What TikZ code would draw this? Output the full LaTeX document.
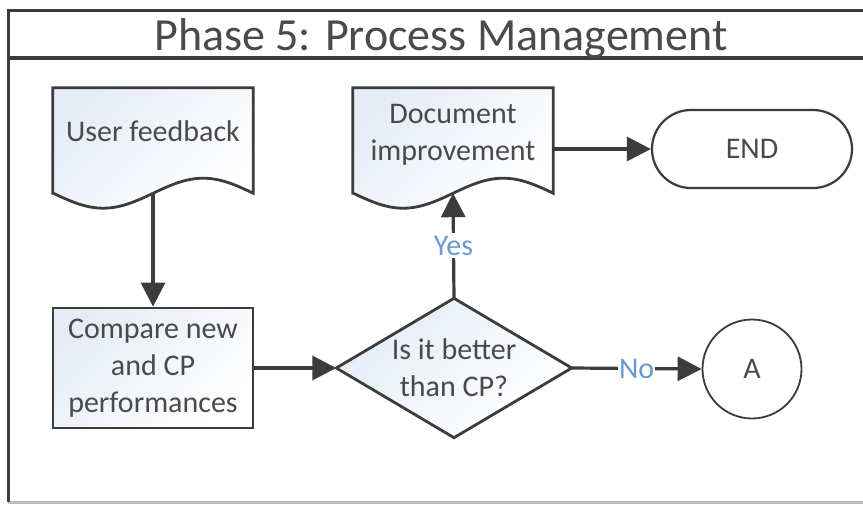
\documentclass[tikz,border=0pt]{standalone}
\usepackage{fontspec}
\setmainfont{Carlito}
\usetikzlibrary{arrows.meta}

\definecolor{ink}{HTML}{3C3C3C}
\definecolor{txt}{HTML}{4A4A4A}
\definecolor{lbl}{HTML}{6A9BCF}
\definecolor{tint}{HTML}{E6ECF6}
\definecolor{rim}{HTML}{BDBDBD}

% document symbol: rectangle with a wavy bottom edge, drawn around a frame node
\newcommand\drawdocument[1]{%
  \path[shapeline] (#1.south west) -- (#1.north west) -- (#1.north east) -- (#1.south east)
    sin ++(-50,-15) cos ++(-50,15) sin ++(-50,15) cos ++(-50,-15) -- cycle;}

\begin{document}
\begin{tikzpicture}[x=1pt,y=-1pt,
  every node/.style={font=\fontsize{30}{37}\selectfont, text=txt, inner sep=0pt},
  flow/.style={draw=ink, line width=3.2pt, -{Triangle[length=24pt,width=24pt]}},
  docframe/.style={minimum width=200pt, minimum height=105pt},
  % light tint in the upper left corner of each symbol, fading to white
  shapeline/.style={draw=ink, line width=2.8pt, top color=tint, bottom color=white, shading angle=45},
  procbox/.style={shapeline, minimum width=200pt, minimum height=120pt, align=center},
  decframe/.style={minimum width=235pt, minimum height=139pt, align=center},
  terminal/.style={draw=ink, line width=2.2pt, fill=white, rounded corners=39pt,
    minimum width=200pt, minimum height=78pt},
  connector/.style={circle, draw=ink, line width=1.8pt, fill=white, minimum size=99pt},
  branch/.style={fill=white, text=lbl, inner xsep=1pt, inner ysep=3pt}]

\useasboundingbox (0,0) rectangle (863,504);
\clip (0,0) rectangle (863,504);
\fill[white] (0,0) rectangle (863,504);

% swimlane frame and header
\draw[rim, line width=3pt] (8,502) -- (880,502);
\draw[ink, line width=3pt] (8,502) -- (8,10) -- (880,10);
\draw[ink, line width=3.4pt] (8,58) -- (880,58);
\node[font=\fontsize{46}{50}\selectfont, anchor=base] (title) at (441,50) {Phase 5: Process Management};

% documents
\node[docframe] (ufb) at (153,140.5) {};
\drawdocument{ufb}
\node[anchor=base] (ufbtext) at (153,141) {User feedback};

\node[docframe] (doc) at (453,140.5) {};
\drawdocument{doc}
\node[align=center] (doctext) at (453,135) {Document\\improvement};

% process, decision, terminator, off-page connector
\node[procbox] (cmp) at (153,368) {Compare new\\and CP\\performances};

\node[decframe] (dec) at (454,368) {};
\path[shapeline] (dec.north) -- (dec.east) -- (dec.south) -- (dec.west) -- cycle;
\node[align=center] (dectext) at (454,368) {Is it better\\than CP?};

\node[terminal] (end) at (752,149) {END};
\node[connector] (A) at (752,369) {A};

% flow
\draw[flow] (ufb.south) -- (cmp.north);
\draw[flow] (cmp.east) -- (dec.west);
\draw[flow] (dec.north) -- node[branch] {Yes} (doc.south);
\draw[flow] (end.west -| doc.east) -- (end.west);
\draw[flow] (dec.east) -- node[branch] {No} (A.west);
\end{tikzpicture}
\end{document}
